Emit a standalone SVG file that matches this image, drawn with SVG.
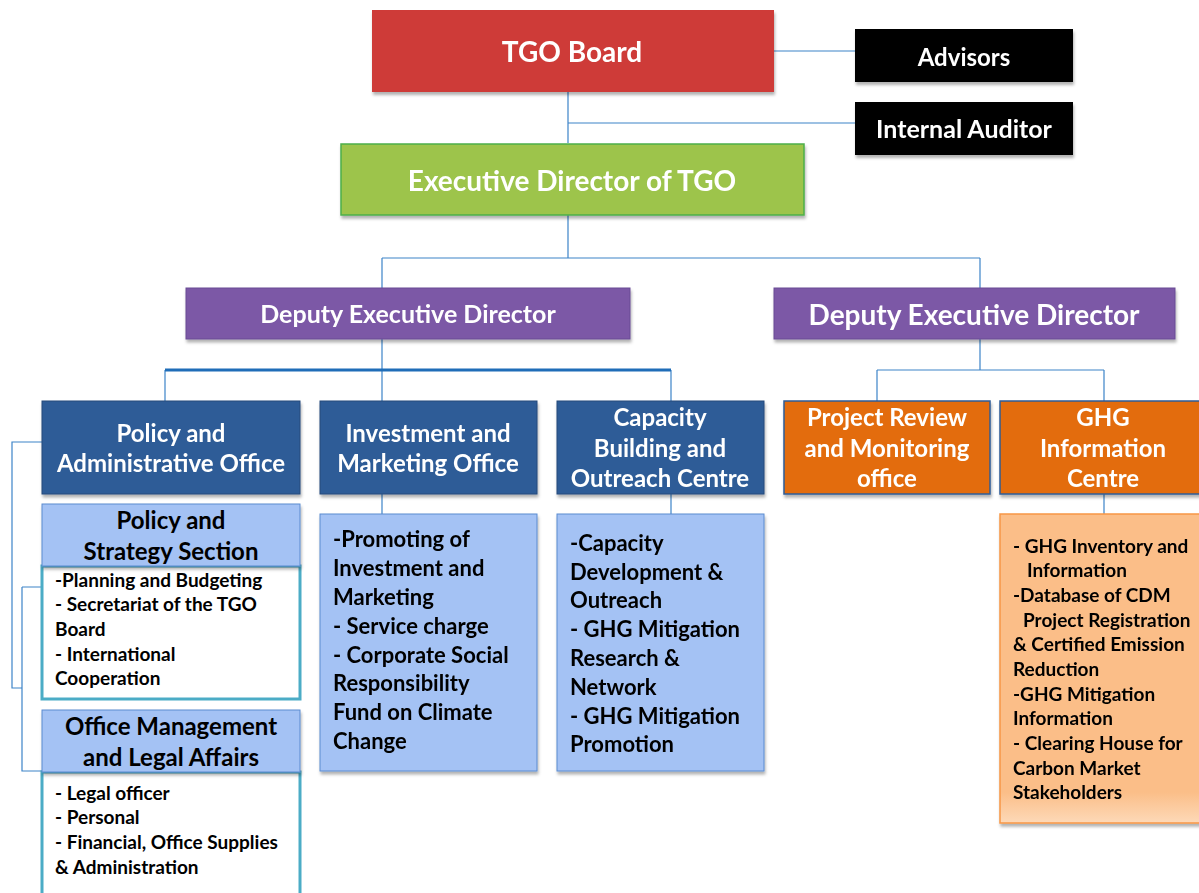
<svg xmlns="http://www.w3.org/2000/svg" width="1199" height="893" viewBox="0 0 1199 893">
<defs>
<filter id="sh" x="-5%" y="-5%" width="115%" height="125%">
<feDropShadow dx="1" dy="3" stdDeviation="1.5" flood-color="#000" flood-opacity="0.3"/>
</filter>
<linearGradient id="og" x1="0" y1="0" x2="0" y2="1">
<stop offset="0.9" stop-color="#FBBE88"/>
<stop offset="1" stop-color="#FDD9B8"/>
</linearGradient>
</defs>
<style>
text{font-family:Lato,"Open Sans","Liberation Sans",sans-serif;font-weight:bold;}
.w{fill:#fff;text-anchor:middle;}
.k{fill:#000;}
.kc{fill:#000;text-anchor:middle;}
.ln{stroke:#3C84C8;stroke-width:1.2;fill:none;}
.dk{fill:#2E5C97;stroke:#24487A;stroke-width:1;}
.lb{fill:#A4C2F4;stroke:#5B8BD0;stroke-width:1;}
.wt{fill:#fff;stroke:#4BACC6;stroke-width:3;}
.or{fill:#E36C0A;stroke:#2E5C97;stroke-width:1.5;}
</style>
<rect width="1199" height="893" fill="#fff"/>
<g id="connectors">
<path class="ln" d="M774 51H855M568 92V143M568 123H855M568 215V258M382 258H980M382 258V288M980 258V288"/>
<path class="ln" d="M382 339V370M165 370V401M382 370V401M671 370V401"/>
<path d="M165 370H671" stroke="#1F6DB8" stroke-width="3" fill="none"/>
<path class="ln" d="M980 339V370M877 370H1104M877 370V401M1104 370V401"/>
<path class="ln" d="M382 494V514M671 494V514M1104 494V514"/>
<path class="ln" d="M42 442H12V688H22M22 587H42M22 587V771H42"/>
</g>
<g id="tgo-board" filter="url(#sh)">
<rect x="372" y="10" width="402" height="82" fill="#CE3B37"/>
<text class="w" x="572" y="62" font-size="28">TGO Board</text>
</g>
<g id="advisors" filter="url(#sh)">
<rect x="855" y="29" width="218" height="53" fill="#000"/>
<text class="w" x="964" y="66" font-size="24">Advisors</text>
</g>
<g id="internal-auditor" filter="url(#sh)">
<rect x="855" y="102" width="218" height="53" fill="#000"/>
<text class="w" x="964" y="138" font-size="25">Internal Auditor</text>
</g>
<g id="executive-director" filter="url(#sh)">
<rect x="341" y="144" width="463" height="71" fill="#9DC44B" stroke="#4DAF4A" stroke-width="1.5"/>
<text class="w" x="572" y="191" font-size="28">Executive Director of TGO</text>
</g>
<g id="deputy-left" filter="url(#sh)">
<rect x="186" y="288" width="444" height="51" fill="#7B58A6" stroke="#6A4A94"/>
<text class="w" x="408" y="323" font-size="25">Deputy Executive Director</text>
</g>
<g id="deputy-right" filter="url(#sh)">
<rect x="774" y="288" width="401" height="51" fill="#7B58A6" stroke="#6A4A94"/>
<text class="w" x="974" y="325" font-size="28">Deputy Executive Director</text>
</g>
<g id="policy-admin" filter="url(#sh)">
<rect class="dk" x="42" y="401" width="258" height="93"/>
<text class="w" x="171" y="442" font-size="24">Policy and</text>
<text class="w" x="171" y="472" font-size="24">Administrative Office</text>
</g>
<g id="investment" filter="url(#sh)">
<rect class="dk" x="320" y="401" width="217" height="93"/>
<text class="w" x="428" y="442" font-size="24">Investment and</text>
<text class="w" x="428" y="472" font-size="24">Marketing Office</text>
</g>
<g id="capacity" filter="url(#sh)">
<rect class="dk" x="557" y="401" width="207" height="93"/>
<text class="w" x="660" y="426" font-size="24">Capacity</text>
<text class="w" x="660" y="457" font-size="24">Building and</text>
<text class="w" x="660" y="487" font-size="24">Outreach Centre</text>
</g>
<g id="project-review" filter="url(#sh)">
<rect class="or" x="784" y="401" width="206" height="93"/>
<text class="w" x="887" y="426" font-size="24">Project Review</text>
<text class="w" x="887" y="457" font-size="24">and Monitoring</text>
<text class="w" x="887" y="487" font-size="24">office</text>
</g>
<g id="ghg-centre" filter="url(#sh)">
<rect class="or" x="1000" y="401" width="205" height="93"/>
<text class="w" x="1103" y="426" font-size="24">GHG</text>
<text class="w" x="1103" y="457" font-size="24">Information</text>
<text class="w" x="1103" y="487" font-size="24">Centre</text>
</g>
<g id="policy-strategy">
<rect class="wt" x="42" y="566" width="258" height="133"/>
<rect class="lb" x="42" y="504" width="258" height="62" filter="url(#sh)"/>
<text class="kc" x="171" y="529" font-size="24">Policy and</text>
<text class="kc" x="171" y="560" font-size="24">Strategy Section</text>
<g class="k" font-size="19">
<text x="55" y="587">-Planning and Budgeting</text>
<text x="55" y="611">- Secretariat of the TGO</text>
<text x="55" y="636">Board</text>
<text x="55" y="661">- International</text>
<text x="55" y="685">Cooperation</text>
</g>
</g>
<g id="office-management">
<rect class="wt" x="42" y="772" width="258" height="130"/>
<rect class="lb" x="42" y="710" width="258" height="62" filter="url(#sh)"/>
<text class="kc" x="171" y="735" font-size="24">Office Management</text>
<text class="kc" x="171" y="766" font-size="24">and Legal Affairs</text>
<g class="k" font-size="19">
<text x="55" y="800">- Legal officer</text>
<text x="55" y="824">- Personal</text>
<text x="55" y="849">- Financial, Office Supplies</text>
<text x="55" y="874">&amp; Administration</text>
</g>
</g>
<g id="investment-details" filter="url(#sh)">
<rect class="lb" x="320" y="514" width="217" height="257"/>
<g class="k" font-size="22">
<text x="333" y="547">-Promoting of</text>
<text x="333" y="576">Investment and</text>
<text x="333" y="605">Marketing</text>
<text x="333" y="634">- Service charge</text>
<text x="333" y="663">- Corporate Social</text>
<text x="333" y="691">Responsibility</text>
<text x="333" y="720">Fund on Climate</text>
<text x="333" y="749">Change</text>
</g>
</g>
<g id="capacity-details" filter="url(#sh)">
<rect class="lb" x="557" y="514" width="207" height="257"/>
<g class="k" font-size="22">
<text x="570" y="551">-Capacity</text>
<text x="570" y="580">Development &amp;</text>
<text x="570" y="608">Outreach</text>
<text x="570" y="637">- GHG Mitigation</text>
<text x="570" y="666">Research &amp;</text>
<text x="570" y="695">Network</text>
<text x="570" y="724">- GHG Mitigation</text>
<text x="570" y="752">Promotion</text>
</g>
</g>
<g id="ghg-details" filter="url(#sh)">
<rect x="1000" y="514" width="205" height="309" fill="url(#og)" stroke="#F79646" stroke-width="1.5"/>
<g class="k" font-size="19">
<text x="1013" y="553">- GHG Inventory and</text>
<text x="1027" y="577">Information</text>
<text x="1013" y="602">-Database of CDM</text>
<text x="1023" y="627">Project Registration</text>
<text x="1013" y="651">&amp; Certified Emission</text>
<text x="1013" y="676">Reduction</text>
<text x="1013" y="701">-GHG Mitigation</text>
<text x="1013" y="725">Information</text>
<text x="1013" y="750">- Clearing House for</text>
<text x="1013" y="775">Carbon Market</text>
<text x="1013" y="799">Stakeholders</text>
</g>
</g>
</svg>
